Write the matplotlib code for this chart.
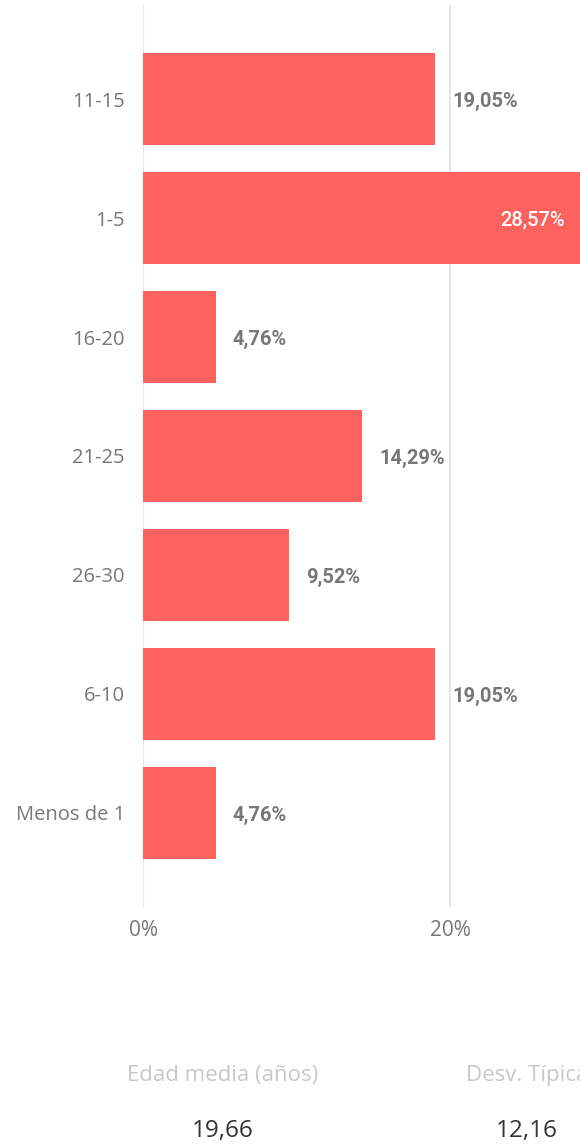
import matplotlib
matplotlib.use("Agg")
import matplotlib.pyplot as plt

categories = ["11-15", "1-5", "16-20", "21-25", "26-30", "6-10", "Menos de 1"]
values = [19.05, 28.57, 4.76, 14.29, 9.52, 19.05, 4.76]
value_labels = ["19,05%", "28,57%", "4,76%", "14,29%", "9,52%", "19,05%", "4,76%"]
xticks = [0, 20]
xtick_labels = ["0%", "20%"]
stat_titles = ["Edad media (años)", "Desv. Típica"]
stat_values = ["19,66", "12,16"]

W, H = 580, 1144
fig = plt.figure(figsize=(W / 100, H / 100), dpi=100)
ax = fig.add_axes([143 / W, 1 - 907 / H, (W - 143) / W, 902 / H])

bar_color = "#FD625E"
ypos = list(range(len(categories)))
ax.barh(ypos, values, height=0.78, color=bar_color, zorder=2)

xmax = (W - 143) / 15.35
ax.set_xlim(0, xmax)
ax.set_ylim(len(categories) - 0.21, -0.79)

for x in xticks:
    ax.axvline(x, color="#E6E6E6", lw=1.5, zorder=1)

for s in ax.spines.values():
    s.set_visible(False)
ax.set_xticks(xticks)
ax.set_xticklabels(xtick_labels, family="Open Sans", fontsize=15, color="#777777")
ax.set_yticks(ypos)
ax.set_yticklabels(categories, family="Open Sans", fontsize=14.5, color="#777777")
ax.tick_params(axis="both", length=0)
ax.tick_params(axis="x", pad=9)
ax.tick_params(axis="y", pad=13)

for y, v, lab in zip(ypos, values, value_labels):
    if v > xmax - 6:
        ax.text(xmax - 1.0, y + 0.02, lab, ha="right", va="center", color="white",
                family="Roboto", fontweight="medium", fontsize=14.5, zorder=3)
    else:
        ax.text(v + 1.1, y + 0.02, lab, ha="left", va="center", color="#777777",
                family="Roboto", fontweight="bold", fontsize=14.5, zorder=3)

centers = [223, 527]
for cx, t, v in zip(centers, stat_titles, stat_values):
    fig.text(cx / W, 1 - 1076 / H, t, ha="center", va="center",
             family="Open Sans", fontsize=16, color="#C8C8C8")
    fig.text(cx / W, 1 - 1131 / H, v, ha="center", va="center",
             family="Open Sans", fontsize=17.5, fontweight="medium", color="#333333")

fig.savefig("out.png", dpi=100)
